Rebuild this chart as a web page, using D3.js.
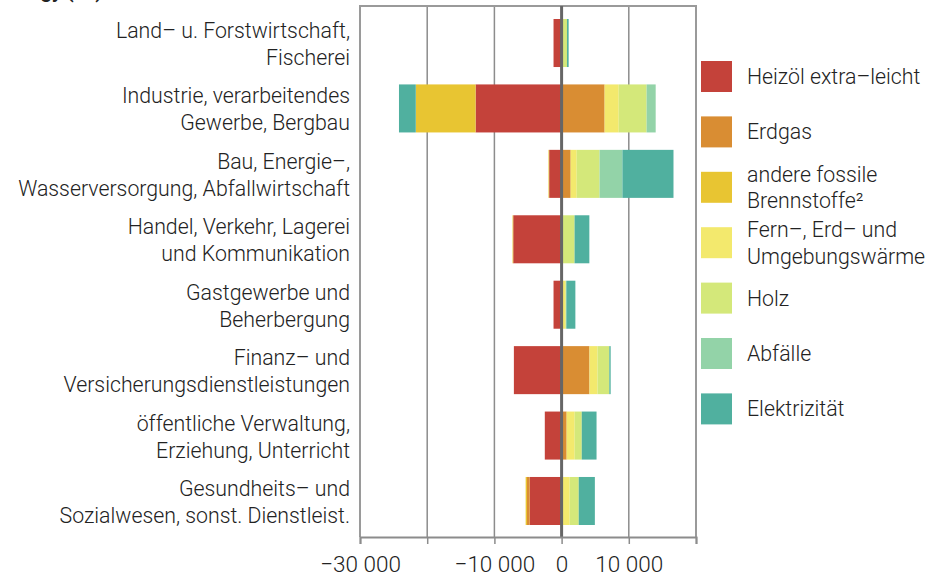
<!DOCTYPE html>
<html>
<head>
<meta charset="utf-8">
<script src="https://cdn.jsdelivr.net/npm/d3@7"></script>
<style>
  body { margin: 0; background: #fff; }
  svg { display: block; font-family: Roboto, "Noto Sans", sans-serif; }
</style>
</head>
<body>
<svg width="929" height="577"></svg>
<script>
// categories (two-line labels)
var categories = [
  ["Land\u2013 u. Forstwirtschaft,", "Fischerei"],
  ["Industrie, verarbeitendes", "Gewerbe, Bergbau"],
  ["Bau, Energie\u2013,", "Wasserversorgung, Abfallwirtschaft"],
  ["Handel, Verkehr, Lagerei", "und Kommunikation"],
  ["Gastgewerbe und", "Beherbergung"],
  ["Finanz\u2013 und", "Versicherungsdienstleistungen"],
  ["\u00f6ffentliche Verwaltung,", "Erziehung, Unterricht"],
  ["Gesundheits\u2013 und", "Sozialwesen, sonst. Dienstleist."]
];

var seriesNames = ["Heiz\u00f6l extra\u2013leicht", "Erdgas", "andere fossile Brennstoffe\u00b2",
  "Fern\u2013, Erd\u2013 und Umgebungsw\u00e4rme", "Holz", "Abf\u00e4lle", "Elektrizit\u00e4t"];
var legendLines = [
  ["Heiz\u00f6l extra\u2013leicht"],
  ["Erdgas"],
  ["andere fossile", "Brennstoffe\u00b2"],
  ["Fern\u2013, Erd\u2013 und", "Umgebungsw\u00e4rme"],
  ["Holz"],
  ["Abf\u00e4lle"],
  ["Elektrizit\u00e4t"]
];
var colors = ["#c4423a", "#d98d33", "#e8c532", "#f3e96d", "#d4e87a", "#93d3a8", "#50b09f"];

// values per series, one per category
var heizoel       = [-1200, -12800, -1850, -7200, -1200, -7100, -2500, -4750];
var erdgas        = [0, 6400, 1350, 0, 0, 4150, 750, -400];
var andereFossile = [0, -8900, -100, -100, 0, 0, 0, -200];
var fern          = [0, 2100, 900, 0, 550, 1200, 1200, 1200];
var holz          = [800, 4150, 3400, 1930, 150, 1750, 1050, 1350];
var abfaelle      = [0, 1350, 3400, 0, 0, 0, 0, 0];
var elektrizitaet = [250, -2500, 7600, 2200, 1350, 200, 2200, 2400];

var xTicks = [-30000, -20000, -10000, 0, 10000, 20000];
var xTickLabels = [-30000, -10000, 0, 10000];

var allSeries = [heizoel, erdgas, andereFossile, fern, holz, abfaelle, elektrizitaet];

var rows = categories.map(function(c, i) {
  var r = { cat: c.join(" ") };
  seriesNames.forEach(function(s, j) { r[s] = allSeries[j][i]; });
  return r;
});

var svg = d3.select("svg");

var plotLeft = 360, plotRight = 696, plotTop = 6, plotBottom = 537;
var labelSize = 21.3;

var x = d3.scaleLinear().domain([-30000, 20000]).range([plotLeft, plotRight]);
var y = d3.scaleBand()
  .domain(rows.map(function(d) { return d.cat; }))
  .range([10.3, 533.7])
  .paddingInner(0.266)
  .paddingOuter(0.133);

var stack = d3.stack().keys(seriesNames).offset(d3.stackOffsetDiverging);
var stacked = stack(rows);

// title cut off at the top
svg.append("text")
  .attr("x", 0).attr("y", -2)
  .attr("font-size", 20).attr("font-weight", 700).attr("fill", "#222")
  .text("Energy (TJ)");

// gridlines (under bars)
svg.append("g").selectAll("line")
  .data(xTicks.filter(function(t) { return t !== 0 && t !== -30000 && t !== 20000; }))
  .enter().append("line")
  .attr("x1", function(d) { return x(d); })
  .attr("x2", function(d) { return x(d); })
  .attr("y1", plotTop).attr("y2", plotBottom)
  .attr("stroke", "#8c8c8c").attr("stroke-width", 1.5);

// frame
svg.append("path")
  .attr("d", "M" + plotLeft + "," + plotBottom + "V" + plotTop + "H" + plotRight + "V" + plotBottom)
  .attr("fill", "none").attr("stroke", "#9a9a9a").attr("stroke-width", 2);

// bars
svg.append("g").selectAll("g")
  .data(stacked)
  .enter().append("g")
  .attr("fill", function(d, i) { return colors[i]; })
  .selectAll("rect")
  .data(function(d) { return d; })
  .enter().append("rect")
  .attr("x", function(d) { return x(Math.min(d[0], d[1])); })
  .attr("width", function(d) { return Math.abs(x(d[1]) - x(d[0])); })
  .attr("y", function(d) { return y(d.data.cat); })
  .attr("height", y.bandwidth());

// zero line on top of bars
svg.append("line")
  .attr("x1", x(0)).attr("x2", x(0))
  .attr("y1", plotTop).attr("y2", plotBottom)
  .attr("stroke", "#666").attr("stroke-width", 3);

// x axis
var fmt = function(v) {
  return (v < 0 ? "\u2212" : "") + d3.format(",")(Math.abs(v)).replace(/,/g, " ");
};
var xAxis = svg.append("g")
  .attr("transform", "translate(0," + plotBottom + ")")
  .call(d3.axisBottom(x).tickValues(xTicks).tickSize(7).tickPadding(12)
    .tickFormat(function(v) { return xTickLabels.indexOf(v) >= 0 ? fmt(v) : ""; }));
xAxis.select(".domain").attr("stroke", "#8c8c8c").attr("stroke-width", 2);
xAxis.selectAll(".tick line").attr("stroke", "#8c8c8c").attr("stroke-width", 1.5);
xAxis.selectAll(".tick text")
  .attr("font-family", "Roboto, sans-serif")
  .attr("font-size", 22.5).attr("font-weight", 300).attr("fill", "#222");

// category labels
var catLabels = svg.append("g").selectAll("text")
  .data(categories)
  .enter().append("text")
  .attr("text-anchor", "end")
  .attr("font-size", labelSize).attr("font-weight", 300).attr("fill", "#222")
  .attr("transform", function(d, i) {
    return "translate(350," + (y(rows[i].cat) + y.bandwidth() / 2) + ")";
  });
catLabels.selectAll("tspan")
  .data(function(d) { return d; })
  .enter().append("tspan")
  .attr("x", 0)
  .attr("y", function(d, i) { return i === 0 ? -5 : 22; })
  .text(function(d) { return d; });

// legend
var legend = svg.append("g").selectAll("g")
  .data(legendLines)
  .enter().append("g")
  .attr("transform", function(d, i) { return "translate(701," + (61 + i * 55.4) + ")"; });
legend.append("rect")
  .attr("width", 31).attr("height", 31)
  .attr("fill", function(d, i) { return colors[i]; });
var ltext = legend.append("text")
  .attr("x", 46)
  .attr("font-size", labelSize).attr("font-weight", 300).attr("fill", "#222");
ltext.selectAll("tspan")
  .data(function(d) { return d.map(function(t) { return { t: t, n: d.length }; }); })
  .enter().append("tspan")
  .attr("x", 46)
  .attr("y", function(d, i) { return d.n === 1 ? 23 : (i === 0 ? 10 : 36.5); })
  .text(function(d) { return d.t; });
</script>
</body>
</html>
